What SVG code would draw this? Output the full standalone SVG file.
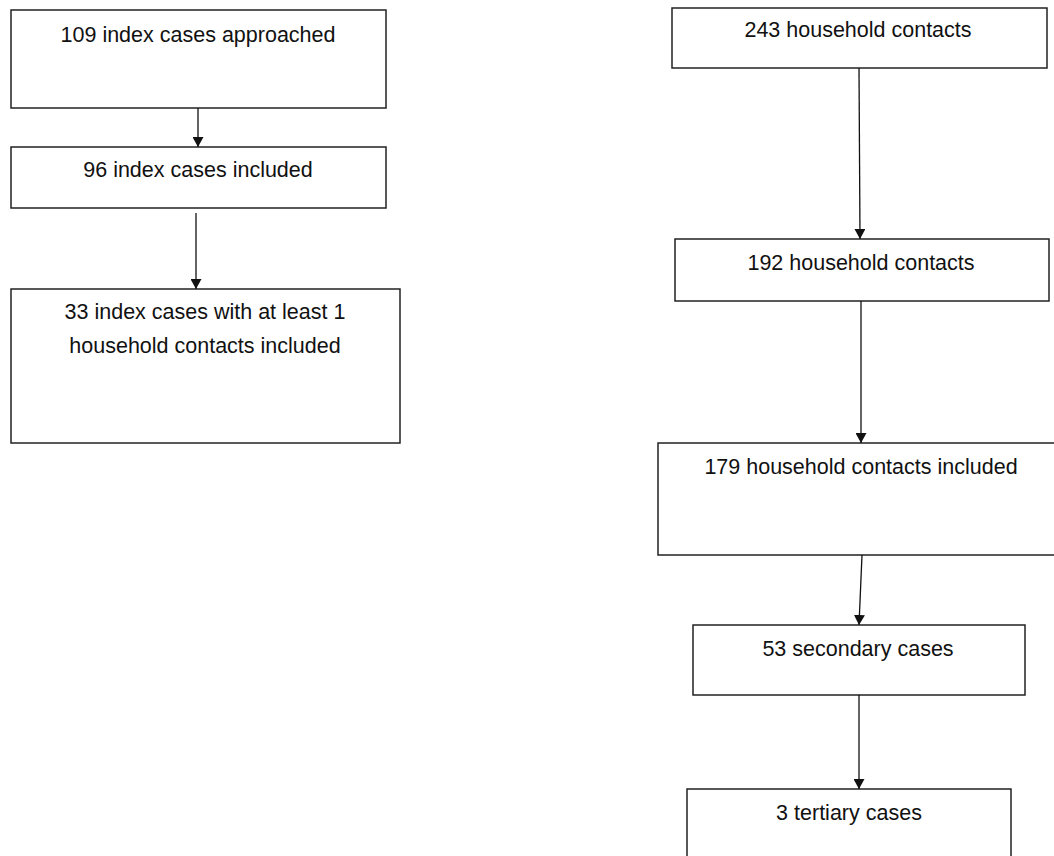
<svg xmlns="http://www.w3.org/2000/svg" width="1054" height="856" viewBox="0 0 1054 856">
<style>
.box{fill:#fff;stroke:#222;stroke-width:1.5}
.t{font-family:"Liberation Sans",Arial,sans-serif;font-size:21.5px;fill:#111;text-anchor:middle}
.c{stroke:#111;stroke-width:1.3;fill:none;marker-end:url(#ah)}
</style>
<defs>
<marker id="ah" markerWidth="11" markerHeight="11" refX="10" refY="5.5" orient="auto" markerUnits="userSpaceOnUse">
<path d="M0,0 L10,5.5 L0,11 z" fill="#111"/>
</marker>
</defs>
<rect width="1054" height="856" fill="#fff"/>
<g id="n1"><rect class="box" x="11" y="10" width="375" height="98"/><text class="t" x="198" y="42">109 index cases approached</text></g>
<g id="n2"><rect class="box" x="11" y="147" width="375" height="61"/><text class="t" x="198" y="177">96 index cases included</text></g>
<g id="n3"><rect class="box" x="11" y="289" width="389" height="154"/><text class="t" x="205" y="319">33 index cases with at least 1</text><text class="t" x="205" y="353">household contacts included</text></g>
<g id="n4"><rect class="box" x="672" y="8" width="375" height="60"/><text class="t" x="858" y="37">243 household contacts</text></g>
<g id="n5"><rect class="box" x="675" y="239" width="374" height="62"/><text class="t" x="861" y="270">192 household contacts</text></g>
<g id="n6"><rect class="box" x="658" y="443" width="400" height="112"/><text class="t" x="861" y="474">179 household contacts included</text></g>
<g id="n7"><rect class="box" x="693" y="625" width="332" height="70"/><text class="t" x="858" y="656">53 secondary cases</text></g>
<g id="n8"><rect class="box" x="687" y="789" width="324" height="80"/><text class="t" x="849" y="820">3 tertiary cases</text></g>
<g id="connectors">
<line class="c" x1="198" y1="108" x2="198" y2="147"/>
<line class="c" x1="196" y1="213" x2="196" y2="289"/>
<line class="c" x1="859" y1="68" x2="860" y2="239"/>
<line class="c" x1="861" y1="301" x2="861" y2="443"/>
<line class="c" x1="862" y1="555" x2="859" y2="625"/>
<line class="c" x1="859" y1="695" x2="859" y2="789"/>
</g>
</svg>
